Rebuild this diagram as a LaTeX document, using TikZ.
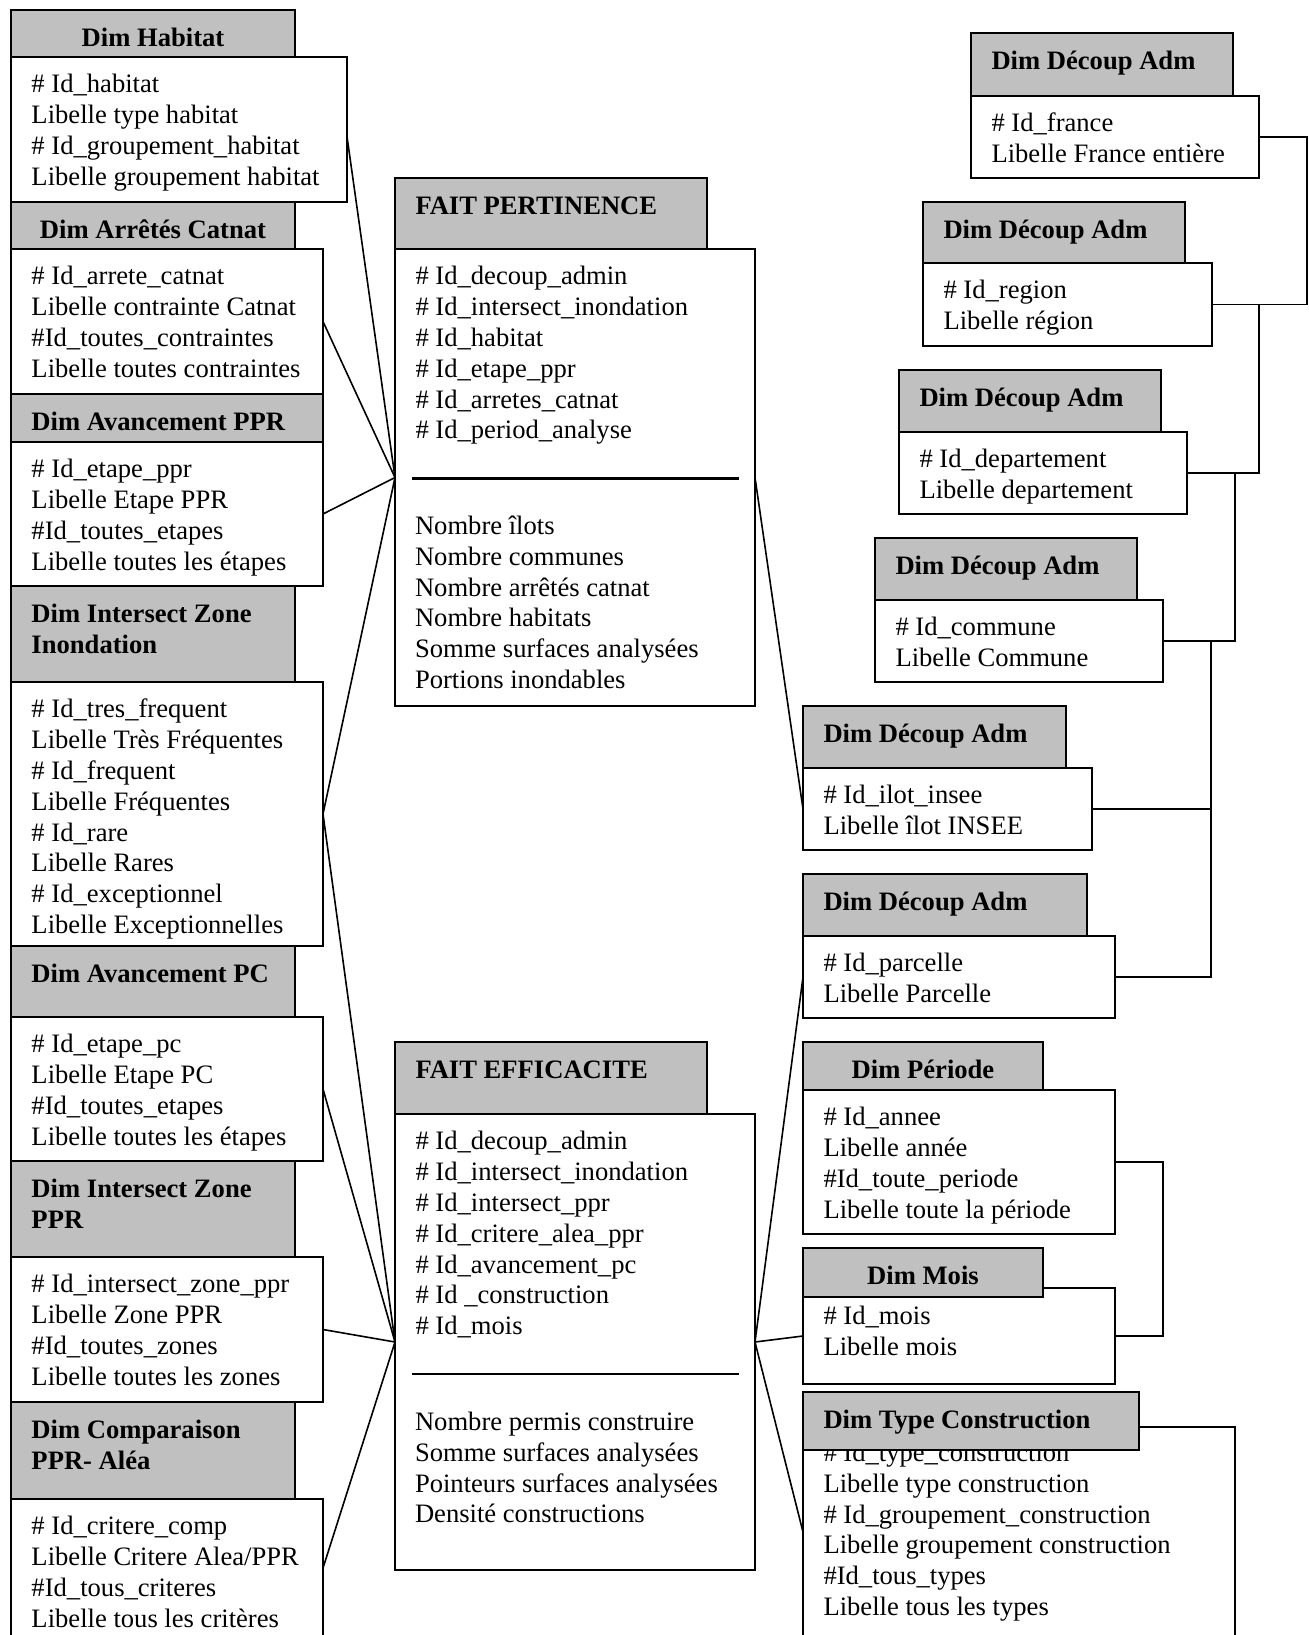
\documentclass[tikz,border=0pt]{standalone}
\usepackage{fontspec}
\setmainfont{Liberation Serif}
\usetikzlibrary{fit}
\definecolor{hdrgray}{RGB}{192,192,192}
\newcommand\dfont{\fontsize{13.3pt}{15.4pt}\selectfont}
\newcommand\btxt[2]{\node[txt] (#1-t) at ([xshift=10.25pt,yshift=-7.2pt]#1.north west) {\strut #2};}
\newcommand\htxt[2]{\node[txt,font=\dfont\bfseries] (#1-t) at ([xshift=10.25pt,yshift=-7.4pt]#1.north west) {\strut #2};}
\newcommand\hctxt[2]{\node[txt,anchor=north,font=\dfont\bfseries] (#1-t) at ([yshift=-7.4pt]#1.north) {\strut #2};}
\begin{document}
\begin{tikzpicture}[x=0.5pt,y=-0.5pt,
  hbox/.style={draw, line width=1pt, fill=hdrgray, inner sep=0pt, outer sep=0pt},
  bbox/.style={draw, line width=1pt, fill=white, inner sep=0pt, outer sep=0pt},
  txt/.style={anchor=north west, inner sep=0pt, outer sep=0pt, align=left, font=\dfont},
  conn/.style={line width=0.8pt},
  sepline/.style={line width=1.2pt}]
\useasboundingbox (0,0) rectangle (1309,1635);

% ---------------- left column ----------------
\node[bbox, fit={(11,57)(347,202)}] (habB) {};
\btxt{habB}{\# Id\_habitat\\Libelle type habitat\\\# Id\_groupement\_habitat\\Libelle groupement habitat}
\node[hbox, fit={(11,10)(295,57)}] (habH) {};
\hctxt{habH}{Dim Habitat}

\node[bbox, fit={(11,249)(323,394)}] (catB) {};
\btxt{catB}{\# Id\_arrete\_catnat\\Libelle contrainte Catnat\\\#Id\_toutes\_contraintes\\Libelle toutes contraintes}
\node[hbox, fit={(11,202)(295,249)}] (catH) {};
\hctxt{catH}{Dim Arrêtés Catnat}

\node[bbox, fit={(11,442)(323,586)}] (pprB) {};
\btxt{pprB}{\# Id\_etape\_ppr\\Libelle Etape PPR\\\#Id\_toutes\_etapes\\Libelle toutes les étapes}
\node[hbox, fit={(11,394)(323,442)}] (pprH) {};
\htxt{pprH}{Dim Avancement PPR}

\node[bbox, fit={(11,682)(323,946)}] (inoB) {};
\btxt{inoB}{\# Id\_tres\_frequent\\Libelle Très Fréquentes\\\# Id\_frequent\\Libelle Fréquentes\\\# Id\_rare\\Libelle Rares\\\# Id\_exceptionnel\\Libelle Exceptionnelles}
\node[hbox, fit={(11,586)(295,682)}] (inoH) {};
\htxt{inoH}{Dim Intersect Zone\\Inondation}

\node[bbox, fit={(11,1017)(323,1161)}] (pcB) {};
\btxt{pcB}{\# Id\_etape\_pc\\Libelle Etape PC\\\#Id\_toutes\_etapes\\Libelle toutes les étapes}
\node[hbox, fit={(11,946)(295,1017)}] (pcH) {};
\htxt{pcH}{Dim Avancement PC}

\node[bbox, fit={(11,1257)(323,1402)}] (zppB) {};
\btxt{zppB}{\# Id\_intersect\_zone\_ppr\\Libelle Zone PPR\\\#Id\_toutes\_zones\\Libelle toutes les zones}
\node[hbox, fit={(11,1161)(295,1257)}] (zppH) {};
\htxt{zppH}{Dim Intersect Zone\\PPR}

\node[bbox, fit={(11,1499)(323,1637)}] (cmpB) {};
\btxt{cmpB}{\# Id\_critere\_comp\\Libelle Critere Alea/PPR\\\#Id\_tous\_criteres\\Libelle tous les critères}
\node[hbox, fit={(11,1402)(295,1499)}] (cmpH) {};
\htxt{cmpH}{Dim Comparaison\\PPR- Aléa}

% ---------------- facts ----------------
\node[bbox, fit={(395,249)(755,706)}] (fpB) {};
\btxt{fpB}{\# Id\_decoup\_admin\\\# Id\_intersect\_inondation\\\# Id\_habitat\\\# Id\_etape\_ppr\\\# Id\_arretes\_catnat\\\# Id\_period\_analyse}
\node[txt] (fpM) at (415,513) {\strut Nombre îlots\\Nombre communes\\Nombre arrêtés catnat\\Nombre habitats\\Somme surfaces analysées\\Portions inondables};
\draw[sepline] (412,478.5) -- (739,478.5);
\node[hbox, fit={(395,178)(707,249)}] (fpH) {};
\htxt{fpH}{FAIT PERTINENCE}

\node[bbox, fit={(395,1114)(755,1570)}] (feB) {};
\btxt{feB}{\# Id\_decoup\_admin\\\# Id\_intersect\_inondation\\\# Id\_intersect\_ppr\\\# Id\_critere\_alea\_ppr\\\# Id\_avancement\_pc\\\# Id \_construction\\\# Id\_mois}
\node[txt] (feM) at (415,1409) {\strut Nombre permis construire\\Somme surfaces analysées\\Pointeurs surfaces analysées\\Densité constructions};
\draw[sepline] (412,1374) -- (739,1374);
\node[hbox, fit={(395,1042)(707,1114)}] (feH) {};
\htxt{feH}{FAIT EFFICACITE}

% ---------------- right column ----------------
\node[bbox, fit={(971,96)(1259,178)}] (d1B) {};
\btxt{d1B}{\# Id\_france\\Libelle France entière}
\node[hbox, fit={(971,33)(1233,96)}] (d1H) {};
\htxt{d1H}{Dim Découp Adm}

\node[bbox, fit={(923,263)(1212,346)}] (d2B) {};
\btxt{d2B}{\# Id\_region\\Libelle région}
\node[hbox, fit={(923,202)(1185,263)}] (d2H) {};
\htxt{d2H}{Dim Découp Adm}

\node[bbox, fit={(899,432)(1187,514)}] (d3B) {};
\btxt{d3B}{\# Id\_departement\\Libelle departement}
\node[hbox, fit={(899,370)(1161,432)}] (d3H) {};
\htxt{d3H}{Dim Découp Adm}

\node[bbox, fit={(875,600)(1163,682)}] (d4B) {};
\btxt{d4B}{\# Id\_commune\\Libelle Commune}
\node[hbox, fit={(875,538)(1137,600)}] (d4H) {};
\htxt{d4H}{Dim Découp Adm}

\node[bbox, fit={(803,768)(1092,850)}] (d5B) {};
\btxt{d5B}{\# Id\_ilot\_insee\\Libelle îlot INSEE}
\node[hbox, fit={(803,706)(1066,768)}] (d5H) {};
\htxt{d5H}{Dim Découp Adm}

\node[bbox, fit={(803,936)(1115,1018)}] (d6B) {};
\btxt{d6B}{\# Id\_parcelle\\Libelle Parcelle}
\node[hbox, fit={(803,874)(1087,936)}] (d6H) {};
\htxt{d6H}{Dim Découp Adm}

\node[bbox, fit={(803,1090)(1115,1234)}] (perB) {};
\btxt{perB}{\# Id\_annee\\Libelle année\\\#Id\_toute\_periode\\Libelle toute la période}
\node[hbox, fit={(803,1042)(1043,1090)}] (perH) {};
\hctxt{perH}{Dim Période}

\node[bbox, fit={(803,1288)(1115,1384)}] (moisB) {};
\node[txt] (moisB-t) at ([xshift=10.25pt,yshift=-7.7pt]moisB.north west) {\strut \# Id\_mois\\Libelle mois};
\node[hbox, fit={(803,1248)(1043,1297)}] (moisH) {};
\hctxt{moisH}{Dim Mois}

\node[bbox, fit={(803,1427)(1235,1637)}] (typB) {};
\node[txt] (typB-t) at ([xshift=10.25pt,yshift=-6.5pt]typB.north west) {\strut \# Id\_type\_construction\\Libelle type construction\\\# Id\_groupement\_construction\\Libelle groupement construction\\\#Id\_tous\_types\\Libelle tous les types};
\node[hbox, fit={(803,1392)(1139,1450)}] (typH) {};
\htxt{typH}{Dim Type Construction}

% ---------------- connectors ----------------
\draw[conn] ([yshift=-3.5pt]habB.east) -- (fpB.west);
\draw[conn] (catB.east) -- (fpB.west);
\draw[conn] (pprB.east) -- (fpB.west);
\draw[conn] (inoB.east) -- (fpB.west);
\draw[conn] (inoB.east) -- (feB.west);
\draw[conn] (pcB.east) -- (feB.west);
\draw[conn] (zppB.east) -- (feB.west);
\draw[conn] (cmpB.east) -- (feB.west);
\draw[conn] (fpB.east) -- (d5B.west);
\draw[conn] (feB.east) -- (d6B.west);
\draw[conn] (feB.east) -- (moisB.west);
\draw[conn] (feB.east) -- (typB.west);

\draw[conn] (d1B.east) -- ++(24pt,0) |- (d2B.east);
\draw[conn] (d3B.east) -| ([xshift=23.5pt]d2B.east);
\draw[conn] (d4B.east) -| ([xshift=24pt]d3B.east);
\coordinate (spine) at ([xshift=24pt]d4B.east);
\draw[conn] (d6B.east) -| (spine);
\draw[conn] (d5B.east) -- (d5B.east -| spine);
\draw[conn] (perB.east) -- ++(24pt,0) |- (moisB.east);
\end{tikzpicture}
\end{document}
